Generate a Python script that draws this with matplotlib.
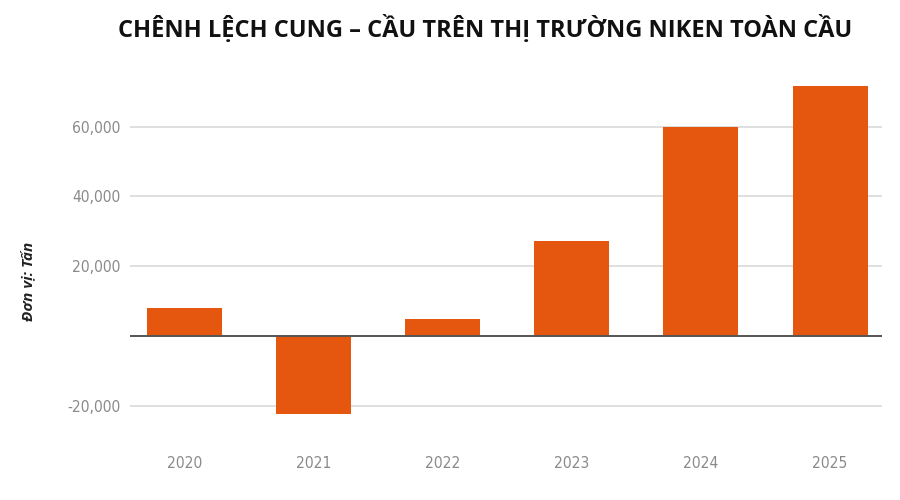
import matplotlib.pyplot as plt
from matplotlib.ticker import FuncFormatter

years = ['2020', '2021', '2022', '2023', '2024', '2025']
gap = [8000, -22300, 4800, 27300, 60000, 71700]   # tấn
yticks = [-20000, 20000, 40000, 60000]

bar_color = '#E5560F'

fig = plt.figure(figsize=(9, 5), dpi=100)
ax = fig.add_axes([0.1444, 0.1186, 0.8353, 0.7329])

x = range(len(years))
ax.bar(x, gap, width=0.58, color=bar_color, zorder=3)

ax.set_xlim(-0.42, 5.40)
ax.set_ylim(-30000, 75000)
ax.set_yticks(yticks)
ax.yaxis.set_major_formatter(FuncFormatter(lambda v, p: f'{int(v):,}'))
ax.set_xticks(list(x))
ax.set_xticklabels(years)

ax.grid(axis='y', color='#d9d9d9', linewidth=1.2, zorder=0)
ax.axhline(0, color='#555555', linewidth=1.4, zorder=4)

for s in ax.spines.values():
    s.set_visible(False)
ax.tick_params(length=0, colors='#8a8a8a', labelsize=11.2)
ax.tick_params(axis='y', pad=7)
ax.tick_params(axis='x', pad=11)
for lab in ax.get_xticklabels() + ax.get_yticklabels():
    lab.set_family('DejaVu Sans')
    lab.set_fontstretch('condensed')

fig.text(0.539, 0.943, 'CHÊNH LỆCH CUNG – CẦU TRÊN THỊ TRƯỜNG NIKEN TOÀN CẦU',
         ha='center', va='center', fontsize=17, fontweight='bold',
         family=['Open Sans', 'DejaVu Sans'], color='#111111')
fig.text(0.031, 0.437, 'Đơn vị: Tấn', rotation=90, ha='center', va='center',
         fontsize=11, fontweight='bold', fontstyle='italic',
         family=['Open Sans', 'DejaVu Sans'], color='#222222')

fig.savefig('out.png', dpi=100)
